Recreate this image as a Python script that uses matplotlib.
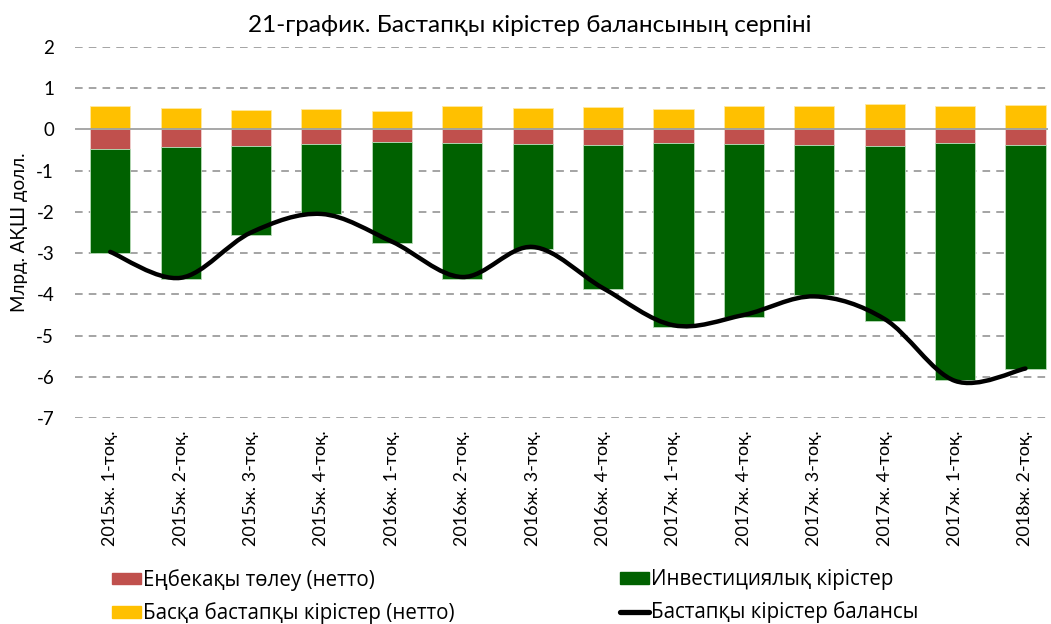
import matplotlib
matplotlib.use("Agg")
import matplotlib.pyplot as plt
from matplotlib.path import Path
from matplotlib.patches import PathPatch
from matplotlib.lines import Line2D
from matplotlib.patches import Patch
import numpy as np

plt.rcParams['font.family'] = ['Lato', 'DejaVu Sans']

categories = ["2015ж. 1-тоқ.", "2015ж. 2-тоқ.", "2015ж. 3-тоқ.", "2015ж. 4-тоқ.",
              "2016ж. 1-тоқ.", "2016ж. 2-тоқ.", "2016ж. 3-тоқ.", "2016ж. 4-тоқ.",
              "2017ж. 1-тоқ.", "2017ж. 4-тоқ.", "2017ж. 3-тоқ.", "2017ж. 4-тоқ.",
              "2017ж. 1-тоқ.", "2018ж. 2-тоқ."]
wages = [-0.47, -0.43, -0.40, -0.36, -0.30, -0.34, -0.35, -0.37, -0.33, -0.35, -0.37, -0.40, -0.32, -0.37]
investment = [-2.53, -3.20, -2.15, -1.69, -2.45, -3.29, -2.54, -3.50, -4.46, -4.21, -3.65, -4.24, -5.76, -5.44]
other = [0.57, 0.51, 0.48, 0.49, 0.44, 0.56, 0.51, 0.55, 0.50, 0.56, 0.57, 0.62, 0.56, 0.60]
balance = [-2.97, -3.60, -2.50, -2.05, -2.72, -3.58, -2.85, -3.85, -4.75, -4.50, -4.05, -4.60, -6.10, -5.80]

legend_labels = ["Еңбекақы төлеу (нетто)", "Басқа бастапқы кірістер (нетто)",
                 "Инвестициялық кірістер", "Бастапқы кірістер балансы"]

c_red = "#C0504D"
c_green = "#006100"
c_yellow = "#FFC000"

W, H = 1051, 624
fig = plt.figure(figsize=(W / 100, H / 100), dpi=100)
ax = fig.add_axes([75 / W, 1 - 418 / H, (1048 - 75) / W, (418 - 47) / H])

x = np.arange(len(categories))
bw = 0.57
ax.bar(x, wages, bw, color=c_red, edgecolor="#f0d0d0", linewidth=0.6, zorder=3)
ax.bar(x, investment, bw, bottom=wages, color=c_green, edgecolor="#b8dcb8", linewidth=0.6, zorder=3)
ax.bar(x, other, bw, color=c_yellow, edgecolor="#ffe9a0", linewidth=0.6, zorder=3)

# smoothed line (Catmull-Rom as cubic Bezier, like Excel smoothing)
pts = np.column_stack([x, balance]).astype(float)
verts = [tuple(pts[0])]
codes = [Path.MOVETO]
n = len(pts)
for i in range(n - 1):
    p0 = pts[i - 1] if i > 0 else pts[i]
    p1 = pts[i]
    p2 = pts[i + 1]
    p3 = pts[i + 2] if i + 2 < n else pts[i + 1]
    c1 = p1 + (p2 - p0) / 6.0
    c2 = p2 - (p3 - p1) / 6.0
    verts += [tuple(c1), tuple(c2), tuple(p2)]
    codes += [Path.CURVE4] * 3
ax.add_patch(PathPatch(Path(verts, codes), facecolor="none", edgecolor="black",
                       linewidth=3.2, capstyle="round", zorder=4))

ax.set_ylim(-7, 2)
ax.set_xlim(-0.5, 13.32)
ax.set_yticks(np.arange(-7, 3, 1))
ax.set_yticklabels([str(v) for v in range(-7, 3)], fontsize=13.5)
for v in range(-7, 3):
    if v == 0:
        continue
    ax.axhline(v, color="#8c8c8c", linestyle=(0, (5, 4)), linewidth=1.1, zorder=1)
ax.axhline(0, color="#a0a0a0", linewidth=1.3, zorder=5)
for s in ax.spines.values():
    s.set_visible(False)
ax.tick_params(axis="both", length=0)
ax.tick_params(axis="y", pad=15)
ax.set_xticks(x)
ax.set_xticklabels(categories, rotation=90, fontsize=13)
ax.tick_params(axis="x", pad=9)
ax.set_ylabel("Млрд. АҚШ долл.", fontsize=13.5, labelpad=6)

fig.text(530 / W, 1 - 25 / H, "21-график. Бастапқы кірістер балансының серпіні",
         ha="center", va="center", fontsize=17.5)

h_col1 = [Patch(color=c_red), Patch(color=c_yellow)]
h_col2 = [Patch(color=c_green),
          Line2D([0], [0], color="black", linewidth=3.8, solid_capstyle="round")]
common = dict(frameon=False, prop={'family': ['Open Sans', 'DejaVu Sans'], 'size': 14.8},
              handlelength=1.4, handleheight=0.5,
              handletextpad=0.12, labelspacing=0.55, borderpad=0, borderaxespad=0,
              loc="upper left")
lg1 = fig.legend(h_col1, legend_labels[:2], bbox_to_anchor=(112 / W, 1 - 569 / H), **common)
lg2 = fig.legend(h_col2, legend_labels[2:], bbox_to_anchor=(620 / W, 1 - 569 / H), **common)

fig.savefig("out.png", dpi=100)
